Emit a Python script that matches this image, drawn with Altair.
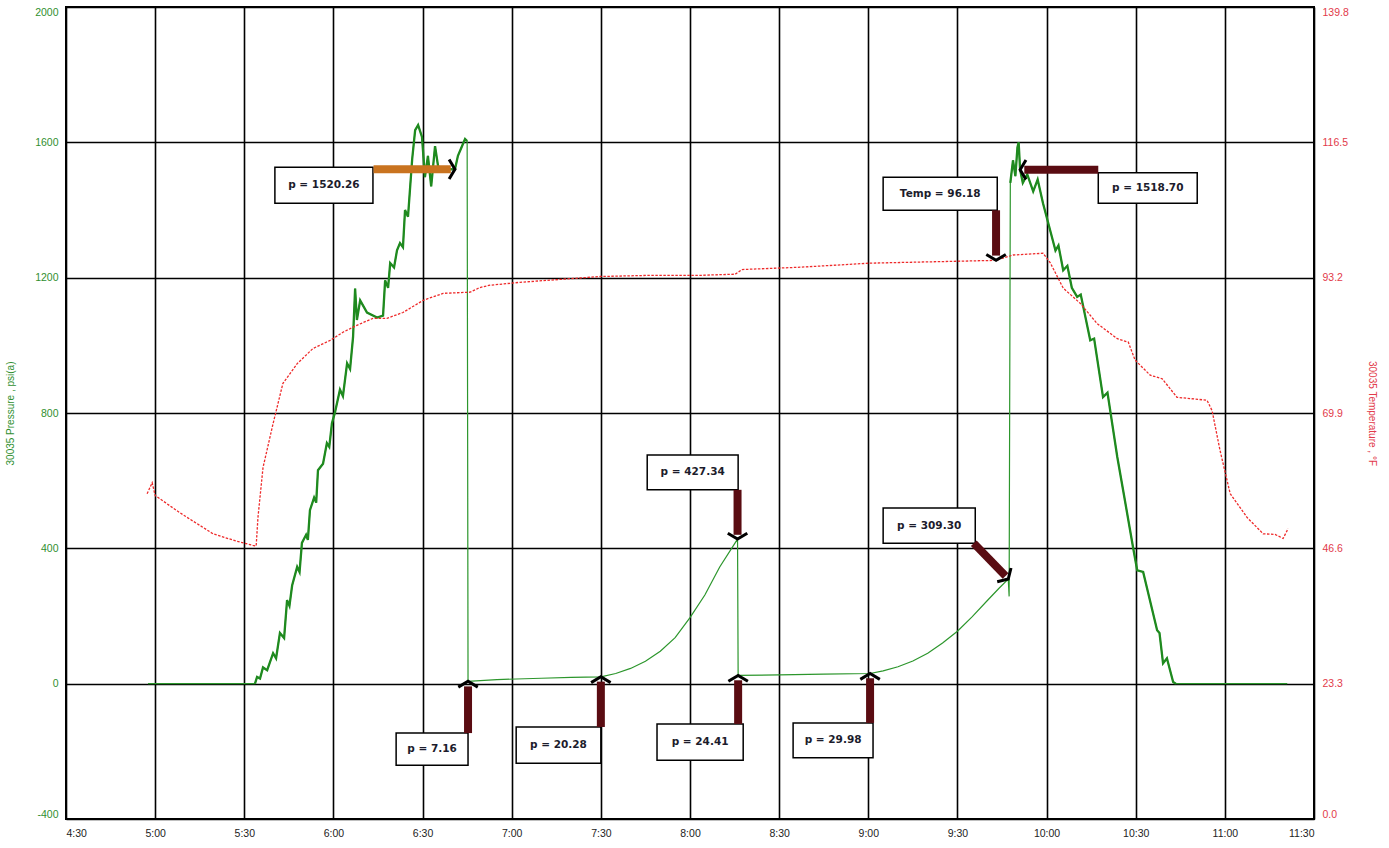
import altair as alt
import pandas as pd


def hours(s):
    """'H:MM' or 'H:MM.m' clock string -> decimal hours."""
    h, m = s.split(":")
    return int(h) + float(m) / 60.0


# ---- pressure trace, psi(a) ----
P_TIME = [
    "4:57.6", "5:33.6", "5:34.3", "5:35.3", "5:36.3", "5:37.7", "5:39.7", "5:40.7",
    "5:42.0", "5:43.4", "5:44.4", "5:45.2", "5:46.1", "5:47.8", "5:48.6", "5:49.4",
    "5:50.8", "5:51.4", "5:52.1", "5:53.5", "5:54.2", "5:54.8", "5:56.5", "5:57.8",
    "5:58.6", "5:59.5", "6:00.5", "6:02.2", "6:03.2", "6:04.6", "6:05.6", "6:06.6",
    "6:07.3", "6:07.9", "6:09.0", "6:11.3", "6:14.7", "6:16.7", "6:17.4", "6:18.4",
    "6:19.1", "6:20.4", "6:21.4", "6:22.4", "6:23.4", "6:24.1", "6:25.1", "6:26.5",
    "6:27.5", "6:28.5", "6:29.8", "6:30.8", "6:31.8", "6:32.9", "6:34.2", "6:35.2",
    "6:37.2", "6:39.2", "6:40.9", "6:41.9", "6:43.3", "6:44.3", "6:45.0", "6:45.3",
    "6:55", "7:10", "7:20", "7:30", "7:35", "7:40", "7:45", "7:50", "7:55", "8:00",
    "8:05", "8:10", "8:16", "8:16.2", "8:30", "8:45", "9:00.6", "9:05", "9:10",
    "9:15", "9:20", "9:25", "9:30", "9:35", "9:40", "9:44", "9:47.1", "9:47.4",
    "9:47.8", "9:48.7", "9:49.5", "9:50.2", "9:50.6", "9:51.1", "9:52.0", "9:53.5",
    "9:55.5", "9:57.0", "9:58.8", "10:01.2", "10:03.0", "10:04.0", "10:05.6",
    "10:07.0", "10:08.5", "10:10.3", "10:11.5", "10:14.7", "10:16.0", "10:19.0",
    "10:20.5", "10:23.8", "10:26.0", "10:29.1", "10:30.5", "10:32.5", "10:37.2",
    "10:38.0", "10:39.2", "10:40.5", "10:42.6", "10:43.5", "11:21",
]
P_VALUE = [
    0, 0, 20, 15, 48, 40, 90, 75,
    150, 135, 247, 230, 290, 345, 330, 416,
    440, 425, 513, 550, 535, 631, 650, 711,
    700, 770, 801, 869, 850, 947, 930, 1024,
    1168, 1075, 1133, 1097, 1082, 1088, 1192, 1170,
    1243, 1230, 1281, 1302, 1290, 1400, 1380, 1550,
    1636, 1651, 1616, 1497, 1560, 1470, 1589, 1530,
    1515, 1521, 1520.26, 1560, 1589, 1610, 1604, 7.16,
    12, 16, 18.5, 20.28, 30, 45, 66, 96, 136, 195,
    262, 345, 427.34, 24.41, 26, 28, 29.98, 38, 50,
    67, 90, 120, 155, 198, 245, 282, 309.30, 258,
    1480, 1547, 1500, 1585, 1600, 1518.70, 1480, 1505,
    1455, 1490, 1420, 1340, 1280, 1295, 1222,
    1235, 1170, 1143, 1150, 1015, 1020, 847,
    860, 670, 560, 403, 335, 330, 158,
    150, 60, 75, 5, 0, 0,
]

# ---- temperature trace, deg F ----
T_TIME = [
    "4:57.3", "4:59", "5:00", "5:08.4", "5:19.5", "5:27.6", "5:32.9", "5:34.0",
    "5:34.6", "5:36.3", "5:39.7", "5:43.0", "5:47.8", "5:53.1", "5:58.9", "6:03.2",
    "6:07.9", "6:13.3", "6:18.0", "6:23.4", "6:30.2", "6:36.9", "6:46", "6:49.3",
    "6:52.7", "7:02.8", "7:16.3", "7:29.7", "7:46.6", "8:03.4", "8:15.2", "8:17.5",
    "8:37.1", "9:00.6", "9:27.5", "9:43", "9:48.7", "9:58.8", "10:01.2", "10:05.6",
    "10:11.3", "10:17", "10:23.8", "10:27.5", "10:29.8", "10:34.9", "10:38.9",
    "10:43.9", "10:54", "10:55.7", "10:58.4", "11:01.8", "11:07.5", "11:12.9",
    "11:16.9", "11:19.6", "11:21.3",
]
T_VALUE = [
    56.0, 57.9, 55.7, 52.7, 49.1, 47.8, 47.1, 47.0,
    51.9, 60.5, 68.1, 75.0, 78.4, 81.0, 82.4, 83.8,
    85.0, 86.2, 86.2, 87.2, 89.3, 90.5, 90.7, 91.5,
    91.9, 92.4, 92.9, 93.4, 93.6, 93.6, 93.8, 94.6,
    95.0, 95.7, 96.0, 96.18, 97.1, 97.4, 95.8, 91.4,
    88.8, 85.3, 82.7, 82.1, 79.0, 76.4, 75.8,
    72.6, 72.1, 70.3, 63.4, 56.0, 51.9, 49.1,
    49.0, 48.3, 50.0,
]

# ---- axis ticks ----
X_TICKS = [4.5, 5.0, 5.5, 6.0, 6.5, 7.0, 7.5, 8.0, 8.5, 9.0, 9.5, 10.0, 10.5, 11.0, 11.5]
P_TICKS = [-400, 0, 400, 800, 1200, 1600, 2000]
T_TICKS = [0.0, 23.3, 46.6, 69.9, 93.2, 116.5, 139.8]

# ---- call-outs on the pressure trace ----
CALLOUT_TEXT = ["p = 1520.26", "p = 1518.70", "p = 427.34", "p = 309.30",
                "p = 7.16", "p = 20.28", "p = 24.41", "p = 29.98"]
CALLOUT_TIME = ["6:40.9", "9:51.1", "8:16", "9:47.1", "6:45.3", "7:30", "8:16.2", "9:00.6"]
CALLOUT_P = [1520.26, 1518.70, 427.34, 309.30, 7.16, 20.28, 24.41, 29.98]

# call-out on the temperature trace
TEMP_CALLOUT_TEXT = "Temp = 96.18"
TEMP_CALLOUT_TIME = "9:43"
TEMP_CALLOUT_VALUE = 96.18

# ---- call-out layout: box corners, shaft start/end, head angle, shaft colour ----
CALLOUT_LAYOUT = [
    dict(t1="5:40.3", t2="6:13.3", y1=1420, y2=1526, s1=("6:13.5", 1520.26), s2=("6:39.5", 1520.26), ang=90, col="#c9731f"),
    dict(t1="10:17.4", t2="10:50.7", y1=1420, y2=1510, s1=("10:17.4", 1518.70), s2=("9:52.5", 1518.70), ang=270, col="#5a0c12"),
    dict(t1="7:45.6", t2="8:16.2", y1=573, y2=676, s1=("8:16", 573), s2=("8:16", 440), ang=180, col="#5a0c12"),
    dict(t1="9:05", t2="9:36", y1=415, y2=519, s1=("9:35.5", 415), s2=("9:46.2", 318), ang=135, col="#5a0c12"),
    dict(t1="6:21.1", t2="6:45.3", y1=-241, y2=-146, s1=("6:45.3", -146), s2=("6:45.3", -8), ang=0, col="#5a0c12"),
    dict(t1="7:01.5", t2="7:30", y1=-235, y2=-128, s1=("7:30", -128), s2=("7:30", 6), ang=0, col="#5a0c12"),
    dict(t1="7:48.9", t2="8:17.9", y1=-226, y2=-119, s1=("8:16.2", -119), s2=("8:16.2", 10), ang=0, col="#5a0c12"),
    dict(t1="8:34.7", t2="9:01.6", y1=-219, y2=-116, s1=("9:00.6", -116), s2=("9:00.6", 16), ang=0, col="#5a0c12"),
]
TEMP_LAYOUT = dict(t1="9:05", t2="9:43.4", y1=104.8, y2=110.5, s1=("9:43", 104.8), s2=("9:43", 97.0), ang=180, col="#5a0c12")

# pumping periods, drawn heavier (noisy gauge response)
RAMP_WINDOWS = [("5:33.6", "6:45.0"), ("9:47.7", "10:43.5")]

GREEN = "#2f8f2f"
RED = "#e23a4a"
LINE_GREEN = "#1f8a1f"
LINE_RED = "#ee2a2a"
FONT = "Liberation Sans"
CHEVRON = "M-1,0.6 L0,0 L1,0.6"

# ---- tables ----
pressure = pd.DataFrame({"t": [hours(s) for s in P_TIME], "p": P_VALUE})
pressure["i"] = range(len(pressure))
temperature = pd.DataFrame({"t": [hours(s) for s in T_TIME], "temp": T_VALUE})
temperature["i"] = range(len(temperature))

ramp_parts = []
for k, (a, b) in enumerate(RAMP_WINDOWS):
    seg = pressure[(pressure["t"] >= hours(a) - 1e-9) & (pressure["t"] <= hours(b) + 1e-9)].copy()
    seg["seg"] = k
    ramp_parts.append(seg)
ramps = pd.concat(ramp_parts, ignore_index=True)


def callout_rows(texts, times, values, layouts):
    rows = []
    for txt, tm, val, lay in zip(texts, times, values, layouts):
        t1, t2 = hours(lay["t1"]), hours(lay["t2"])
        rows.append(dict(
            label=txt, tip_t=hours(tm), tip_v=val,
            bx1=t1, bx2=t2, by1=lay["y1"], by2=lay["y2"],
            tx=(t1 + t2) / 2, ty=(lay["y1"] + lay["y2"]) / 2,
            sx1=hours(lay["s1"][0]), sy1=lay["s1"][1],
            sx2=hours(lay["s2"][0]), sy2=lay["s2"][1],
            ang=lay["ang"], col=lay["col"],
        ))
    return pd.DataFrame(rows)


p_callouts = callout_rows(CALLOUT_TEXT, CALLOUT_TIME, CALLOUT_P, CALLOUT_LAYOUT)
t_callouts = callout_rows([TEMP_CALLOUT_TEXT], [TEMP_CALLOUT_TIME], [TEMP_CALLOUT_VALUE], [TEMP_LAYOUT])

# ---- scales & axes ----
X_SCALE = alt.Scale(domain=[4.5, 11.5], nice=False, zero=False)
X_AXIS = alt.Axis(
    values=X_TICKS, title=None, grid=True, gridColor="#000000", gridWidth=1.6,
    ticks=False, domain=False, labelFont=FONT, labelFontSize=10.5, labelColor="#222222",
    labelPadding=9, labelFlush=True,
    labelExpr="floor(datum.value) + ':' + (datum.value % 1 > 0.25 ? '30' : '00')",
)
P_SCALE = alt.Scale(domain=[-400, 2000], nice=False, zero=False)
P_AXIS = alt.Axis(
    orient="left", values=P_TICKS, title="30035 Pressure , psi(a)", titleColor=GREEN,
    titleFont=FONT, titleFontSize=10, titleFontWeight="normal", titlePadding=19,
    labelColor=GREEN, labelFont=FONT, labelFontSize=10.5, labelPadding=8, labelFlush=True,
    labelExpr="'' + datum.value", grid=True, gridColor="#000000", gridWidth=1.6,
    ticks=False, domain=False,
)
T_SCALE = alt.Scale(domain=[0, 139.8], nice=False, zero=False)
T_AXIS = alt.Axis(
    orient="right", values=T_TICKS, title="30035 Temperature , °F", titleColor=RED,
    titleFont=FONT, titleFontSize=10, titleFontWeight="normal", titlePadding=18,
    labelColor=RED, labelFont=FONT, labelFontSize=10.5, labelPadding=8, labelFlush=True,
    labelExpr="format(datum.value, '.1f')", grid=False, ticks=False, domain=False,
)


def X(field):
    return alt.X(f"{field}:Q", scale=X_SCALE, axis=X_AXIS)


def PY(field):
    return alt.Y(f"{field}:Q", scale=P_SCALE, axis=P_AXIS)


def TY(field):
    return alt.Y(f"{field}:Q", scale=T_SCALE, axis=T_AXIS)


def callout_layers(df, Y):
    base = alt.Chart(df)
    box = base.mark_rect(fill="white", stroke="black", strokeWidth=1.5).encode(
        x=X("bx1"), x2="bx2", y=Y("by1"), y2="by2"
    )
    text = base.mark_text(font="DejaVu Sans", fontSize=10.5, fontWeight="bold",
                          color="#1c1c2c", align="center", baseline="middle").encode(
        x=X("tx"), y=Y("ty"), text="label:N"
    )
    shaft = base.mark_rule(strokeWidth=8, strokeCap="butt").encode(
        x=X("sx1"), x2="sx2", y=Y("sy1"), y2="sy2",
        color=alt.Color("col:N", scale=None)
    )
    head = base.mark_point(shape=CHEVRON, filled=False, stroke="black", strokeWidth=3,
                           size=380, opacity=1).encode(
        x=X("tip_t"), y=Y("tip_v"), angle=alt.Angle("ang:Q", scale=None)
    )
    return [box, text, shaft, head]


p_line = alt.Chart(pressure).mark_line(color="#2c962c", strokeWidth=1.2).encode(
    x=X("t"), y=PY("p"), order="i:Q"
)
p_ramps = alt.Chart(ramps).mark_line(color=LINE_GREEN, strokeWidth=2.3).encode(
    x=X("t"), y=PY("p"), order="i:Q", detail="seg:N"
)
t_line = alt.Chart(temperature).mark_line(
    color=LINE_RED, strokeWidth=1.3, strokeDash=[2.5, 1.5]
).encode(x=X("t"), y=TY("temp"), order="i:Q")

pressure_group = alt.layer(p_line, p_ramps, *callout_layers(p_callouts, PY))
temp_group = alt.layer(t_line, *callout_layers(t_callouts, TY))

chart = (
    alt.layer(pressure_group, temp_group)
    .resolve_scale(y="independent")
    .properties(
        width=1248, height=812,
        padding={"left": 66, "top": 7, "right": 75, "bottom": 29},
        autosize=alt.AutoSizeParams(type="none"),
        background="white",
    )
    .configure_view(stroke="black", strokeWidth=2)
)

chart.save("out.html", embed_options={"renderer": "svg", "actions": False})
